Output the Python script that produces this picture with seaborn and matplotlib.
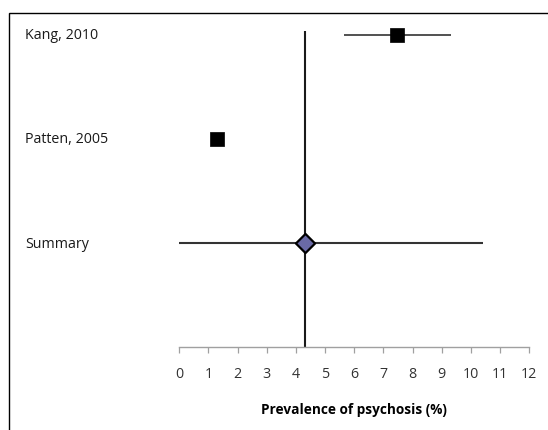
import matplotlib
matplotlib.use("Agg")
import matplotlib.pyplot as plt
import matplotlib.transforms as mtransforms
from matplotlib.patches import Rectangle
import seaborn as sns
import pandas as pd

# Study estimates (prevalence of psychosis, %) with confidence limits
studies = ["Kang, 2010", "Patten, 2005"]
study_est = [7.45, 1.3]
study_low = [5.65, 1.2]
study_high = [9.3, 1.45]

summary_label = "Summary"
summary_est = 4.3
summary_low = 0.0
summary_high = 10.4

x_ticks = list(range(0, 13))
x_label = "Prevalence of psychosis (%)"

sns.set_theme(style="white")
plt.rcParams["font.family"] = ["Open Sans", "DejaVu Sans"]

fig = plt.figure(figsize=(5.48, 4.31), dpi=100)
ax = fig.add_axes([0.3272, 0.1919, 0.9659 - 0.3272, 0.966 - 0.1919])

rows = [3, 2]
summary_row = 1
df = pd.DataFrame({"study": studies, "est": study_est, "low": study_low,
                   "high": study_high, "row": rows})

# reference line at the pooled estimate
ax.vlines(summary_est, 0, 3.03, color="#1a1a1a", lw=1.5, zorder=2)

# confidence intervals
ax.hlines(df["row"], df["low"], df["high"], color="#222222", lw=1.1, zorder=3)
ax.hlines(summary_row, summary_low, summary_high, color="#333333", lw=1.5, zorder=3)

# point estimates
sns.scatterplot(data=df, x="est", y="row", marker="s", s=105, color="black",
                edgecolor="black", linewidth=0.5, ax=ax, zorder=4, legend=False)
sns.scatterplot(x=[summary_est], y=[summary_row], marker="D", s=95,
                color="#6a6aa6", edgecolor="black", linewidth=1.6, ax=ax,
                zorder=5, legend=False)

ax.set_xlim(0, 12)
ax.set_ylim(0, 3.2)
ax.set_xticks(x_ticks)
ax.set_xticklabels([str(t) for t in x_ticks], fontsize=10.3, color="#333333")
ax.set_yticks([])
ax.set_ylabel("")
ax.set_xlabel(x_label, fontsize=9.8, fontweight="bold", color="black", labelpad=15)

for side in ["top", "right", "left"]:
    ax.spines[side].set_visible(False)
ax.spines["bottom"].set_color("#a0a0a0")
ax.spines["bottom"].set_linewidth(1.0)
ax.tick_params(axis="x", direction="out", length=4.5, width=0.9, color="#a0a0a0",
               pad=9, bottom=True)
ax.set_facecolor("none")

# row labels on the left
trans = mtransforms.blended_transform_factory(fig.transFigure, ax.transData)
for name, r in zip(studies + [summary_label], rows + [summary_row]):
    ax.text(25 / 548, r, name, transform=trans, ha="left", va="center",
            fontsize=10.3, color="#1a1a1a")

# chart frame
fig.patches.append(Rectangle((9 / 548, -0.1), 1.2, 1 - 14 / 431 + 0.1,
                             transform=fig.transFigure, fill=False,
                             edgecolor="black", lw=1.0, zorder=0))

fig.savefig("out.png", dpi=100)
